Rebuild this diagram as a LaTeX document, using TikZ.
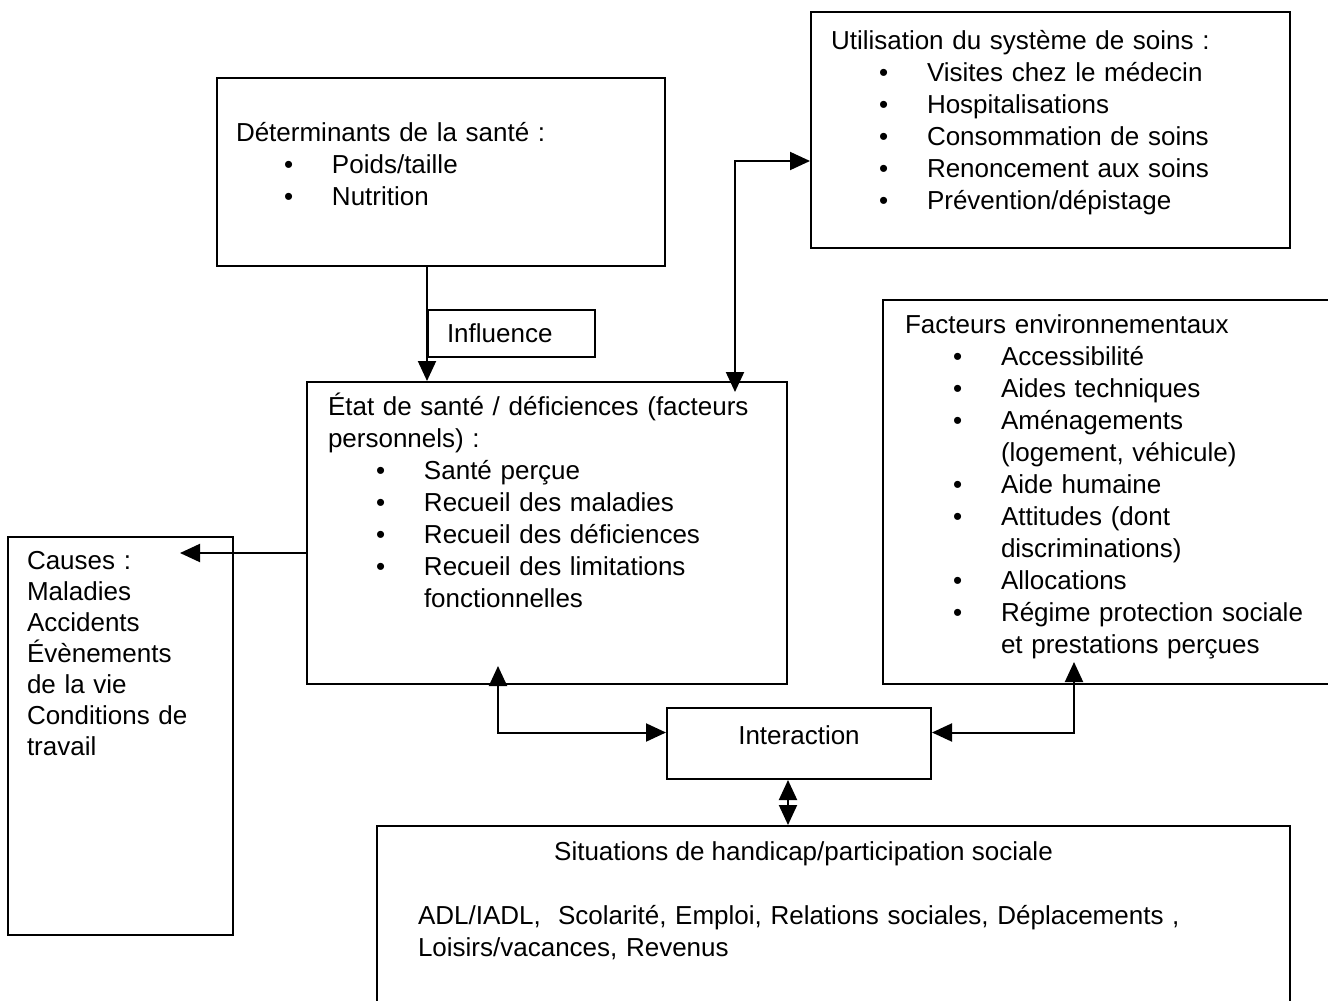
\documentclass[tikz,border=0pt]{standalone}
\usepackage{fontspec}
\setmainfont{Liberation Sans}
\usetikzlibrary{arrows.meta, calc}

\newcommand{\puce}[1]{\hspace*{24pt}\makebox[24pt][l]{•}#1}
\newcommand{\suite}[1]{\hspace*{48pt}#1}

\begin{document}
\begin{tikzpicture}[x=0.5pt, y=-0.5pt, line width=1pt, >={Triangle[length=10pt,width=9pt]}]
\tikzset{ boite/.style={draw, rectangle, inner sep=0pt, font=\fontsize{13}{16}\selectfont},
          texte/.style={anchor=base west, inner sep=0pt, align=left, text width=#1,
                        font=\fontsize{13}{16}\selectfont},
          texte/.default=240pt };
\useasboundingbox (0,0) rectangle (1328,1001);
\clip (0,0) rectangle (1328,1001);

\node[boite, minimum width=224pt, minimum height=94pt] (det) at (441,172) {};
\node[boite, minimum width=239.5pt, minimum height=118pt] (util) at (1050.5,130) {};
\node[boite, minimum width=83.5pt, minimum height=23.5pt, align=left, text width=64.5pt] (infl) at (511.5,333.5) {Influence};
\node[boite, minimum width=240pt, minimum height=151pt] (etat) at (547,533) {};
\node[boite, minimum width=233.5pt, minimum height=192pt] (fact) at (1116.5,492) {};
\node[boite, minimum width=112.5pt, minimum height=199pt] (causes) at (120.5,736) {};
\node[boite, minimum width=132pt, minimum height=35.5pt, text depth=8pt] (inter) at (799,743.5) {Interaction};
\node[boite, minimum width=456.5pt, minimum height=102pt] (situ) at (833.5,928) {};

\node[texte] (dettxt) at ($(det.north west)+(19,64)$) {D\'eterminants de la sant\'e :\\
  \puce{Poids/taille}\\ \puce{Nutrition}};
\node[texte] (utiltxt) at ($(util.north west)+(20,38)$) {Utilisation du syst\`eme de soins :\\
  \puce{Visites chez le m\'edecin}\\ \puce{Hospitalisations}\\ \puce{Consommation de soins}\\
  \puce{Renoncement aux soins}\\ \puce{Pr\'evention/d\'epistage}};
\node[texte] (etattxt) at ($(etat.north west)+(21,34)$) {\'Etat de sant\'e / d\'eficiences (facteurs\\
  personnels) :\\ \puce{Sant\'e per\c{c}ue}\\ \puce{Recueil des maladies}\\
  \puce{Recueil des d\'eficiences}\\ \puce{Recueil des limitations}\\ \suite{fonctionnelles}};
\node[texte] (facttxt) at ($(fact.north west)+(22,34)$) {Facteurs environnementaux\\
  \puce{Accessibilit\'e}\\ \puce{Aides techniques}\\ \puce{Am\'enagements}\\
  \suite{(logement, v\'ehicule)}\\ \puce{Aide humaine}\\ \puce{Attitudes (dont}\\
  \suite{discriminations)}\\ \puce{Allocations}\\ \puce{R\'egime protection sociale}\\
  \suite{et prestations per\c{c}ues}};
\node[texte=110pt, font=\fontsize{13}{15.5}\selectfont] (causestxt) at ($(causes.north west)+(19,33)$)
  {Causes :\\ Maladies\\ Accidents\\ \'Ev\`enements\\ de la vie\\ Conditions de\\ travail};
\node[anchor=base, inner sep=0pt, font=\fontsize{13}{16}\selectfont] (situtitre) at ($(situ.north)+(-30,35)$)
  {Situations de handicap/participation sociale};
\node[texte=430pt] (situtxt) at ($(situ.north west)+(41,99)$)
  {ADL/IADL,\ \ Scolarit\'e, Emploi, Relations sociales, D\'eplacements ,\\ Loisirs/vacances, Revenus};

\coordinate (coude) at (735,161);
\coordinate (cible) at (180,553);

\draw[->] (det.south -| infl.west) -- (etat.north -| infl.west);
\draw[<->] (util.west |- coude) -- (coude) -- ($(coude |- etat.north)+(0,11)$);
\draw[->] (etat.west |- cible) -- (cible);
\draw[<->] ($(etat.south west)+(192,-19)$) |- ($(inter.west)+(0,-11)$);
\draw[<->] ($(fact.south west)+(192,-23)$) |- ($(inter.east)+(0,-11)$);
\draw[<->] (inter.south -| etat.east) -- (situ.north -| etat.east);

\end{tikzpicture}
\end{document}
